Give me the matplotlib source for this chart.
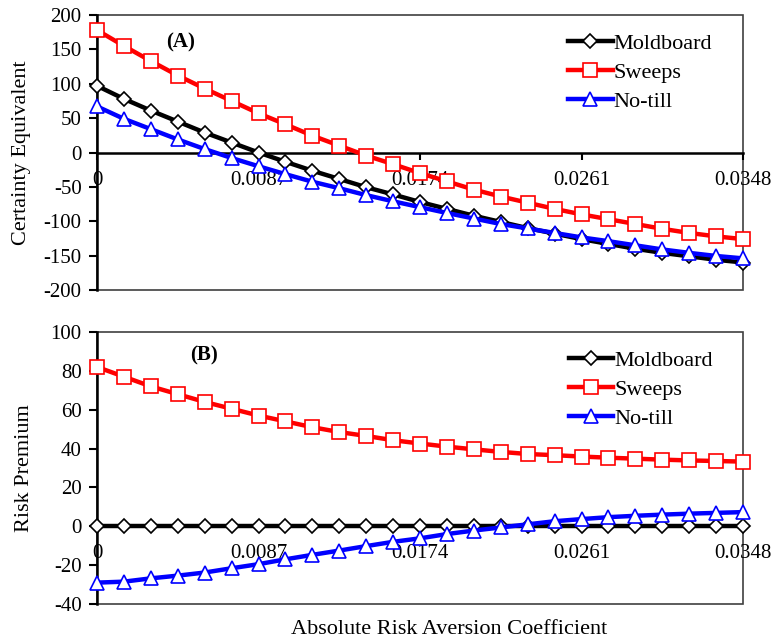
import matplotlib
matplotlib.use("Agg")
import matplotlib.pyplot as plt
from matplotlib.patches import Rectangle

plt.rcParams['font.family'] = ['Liberation Serif', 'DejaVu Serif']

x_coef = [0.0, 0.00145, 0.0029, 0.00435, 0.0058, 0.00725, 0.0087, 0.01015, 0.0116,
          0.01305, 0.0145, 0.01595, 0.0174, 0.01885, 0.0203, 0.02175, 0.0232, 0.02465,
          0.0261, 0.02755, 0.029, 0.03045, 0.0319, 0.03335, 0.0348]
x_ticks = [0, 0.0087, 0.0174, 0.0261, 0.0348]
x_ticklabels = ['0', '0.0087', '0.0174', '0.0261', '0.0348']

ce_moldboard = [97, 78, 61, 45, 29, 14.5, 0, -13.5, -26.5, -38.5, -50.5, -61, -72, -82,
                -92, -101, -110, -118, -126, -133, -140, -146, -151, -156, -160]
ce_sweeps = [178, 155, 133, 112, 93, 75, 57, 41, 24.5, 10, -4.5, -17, -30, -42, -54,
             -64, -73, -82, -90, -97, -104, -111, -117, -122, -126]
ce_notill = [67, 49, 34, 19, 5, -8, -20, -31.5, -42.5, -52, -62, -71, -79.5, -88, -96,
             -104, -110.5, -117, -123.5, -129, -135, -141, -146, -150.5, -154]

rp_moldboard = [0] * 25
rp_sweeps = [82, 77, 72, 68, 64, 60.5, 57, 54, 51, 48.5, 46.5, 44.3, 42.6, 41, 39.6,
             38.3, 37.2, 36.6, 35.9, 35.3, 34.8, 34.3, 33.9, 33.6, 33.3]
rp_notill = [-29, -28.5, -26.8, -25.4, -23.8, -21.6, -19.5, -17, -14.7, -12.5, -10.2,
             -8, -6.2, -4, -2.2, -0.6, 1, 2.6, 3.7, 4.7, 5.4, 6, 6.5, 6.9, 7.3]

series_names = ['Moldboard', 'Sweeps', 'No-till']
colors = ['black', '#FF0000', '#0000FF']
markers = ['D', 's', '^']
msizes = [7.5, 10.5, 9.5]

fig = plt.figure(figsize=(7.77, 6.4), dpi=100)
axA = fig.add_axes([97/777, 1-290/640, 646/777, 275/640])
axB = fig.add_axes([97/777, 1-604/640, 646/777, 272/640])

FS = 15

def style(ax, data, ylim, yticks, ylabel, tag, tagpos, legloc):
    for vals, name, c, m, ms in zip(data, series_names, colors, markers, msizes):
        ax.plot(x_coef, vals, color=c, lw=3.2, marker=m, ms=ms, mfc='white',
                mec=c, mew=1.2, label=name, clip_on=False, zorder=3)
    ax.spines['bottom'].set_position(('data', 0))
    ax.spines['bottom'].set_linewidth(1.8)
    ax.spines['bottom'].set_zorder(2)
    ax.spines['left'].set_linewidth(1.8)
    for s in ['top', 'right']:
        ax.spines[s].set_visible(False)
    ax.set_xlim(0, 0.0348)
    ax.set_ylim(*ylim)
    ax.set_yticks(yticks)
    ax.set_yticklabels([str(v) for v in yticks])
    ax.set_xticks(x_ticks)
    ax.set_xticklabels(x_ticklabels)
    ax.add_patch(Rectangle((0, 0), 1, 1, transform=ax.transAxes, fill=False,
                           ec='#404040', lw=1.2, clip_on=False, zorder=1))
    ax.tick_params(axis='x', direction='out', length=5, width=1.5, pad=8, labelsize=FS)
    ax.tick_params(axis='y', direction='out', length=6, width=1.5, pad=5, labelsize=FS)
    ax.set_ylabel(ylabel, fontsize=16)
    ax.text(tagpos[0], tagpos[1], tag, transform=ax.transAxes, fontsize=15,
            fontweight='bold', ha='center', va='center')
    ax.legend(loc='upper right', bbox_to_anchor=legloc, frameon=False, fontsize=16,
              handlelength=2.0, handletextpad=0.05, labelspacing=0.38, numpoints=1,
              borderaxespad=0)

style(axA, [ce_moldboard, ce_sweeps, ce_notill], (-200, 200),
      list(range(-200, 201, 50)), 'Certainty Equivalent', '(A)',
      (0.13, 0.9), (0.966, 0.965))
style(axB, [rp_moldboard, rp_sweeps, rp_notill], (-40, 100),
      list(range(-40, 101, 20)), 'Risk Premium', '(B)',
      (0.165, 0.912), (0.967, 0.965))

axA.yaxis.set_label_coords(-0.102, 0.5)
axB.yaxis.set_label_coords(-0.097, 0.5)

fig.text(449/777, 1-630/640, 'Absolute Risk Aversion Coefficient', fontsize=16,
         ha='center', va='center')

fig.savefig('out.png', dpi=100)
